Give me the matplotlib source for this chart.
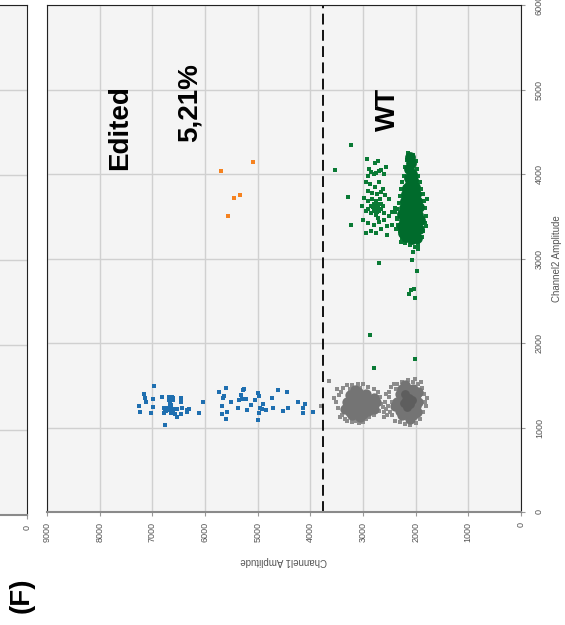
import matplotlib
matplotlib.use("Agg")
import matplotlib.pyplot as plt

plt.rcParams['font.family'] = ['Liberation Sans', 'DejaVu Sans']

# droplets, (Channel1, Channel2) amplitudes
blue_ch1 = [6969, 7159, 7134, 7121, 7260, 7235, 7032, 6982, 6982, 6817, 6767, 6779, 6678, 6634,
            6602, 6691, 6665, 6640, 6615, 6779, 6754, 6716, 6678, 6640, 6615, 6577, 6741, 6653,
            6564, 6539, 6527, 6463, 6463, 6451, 6438, 6349, 6337, 6299, 6121, 6045, 6665, 6665,
            6697,
            5729, 5602, 5640, 5653, 5501, 5678, 5589, 5678, 5602, 5374, 5349, 5298, 5222, 5311,
            5285, 5260, 5209, 5121, 5057, 4994, 4970, 4956, 4918, 4893, 4842, 4970, 4994, 4729,
            4704, 4615, 4449, 4514, 4425, 4235, 4146, 4096, 4146, 3956]
blue_ch2 = [1491, 1396, 1349, 1301, 1258, 1187, 1167, 1341, 1238, 1357, 1025, 1167, 1364, 1364,
            1325, 1325, 1278, 1266, 1345, 1234, 1219, 1219, 1207, 1219, 1203, 1219, 1195, 1167,
            1163, 1128, 1219, 1345, 1305, 1163, 1234, 1187, 1211, 1215, 1167, 1298, 1313, 1246,
            1227,
            1416, 1467, 1369, 1352, 1305, 1258, 1187, 1156, 1104, 1227, 1321, 1337, 1341, 1380,
            1443, 1459, 1203, 1262, 1325, 1404, 1372, 1234, 1222, 1281, 1203, 1171, 1088, 1352,
            1227, 1440, 1420, 1195, 1230, 1305, 1234, 1281, 1167, 1183]

orange_ch1 = [5083, 5703, 5342, 5450, 5564]
orange_ch2 = [4138, 4035, 3751, 3719, 3499]

gray_core_ch1 = [3300, 3250, 3200, 3150, 3150, 3100, 3100, 3050, 3050, 3000, 3000, 2950, 2950,
                 2900, 2900, 2850, 2800, 2800, 3200, 3350, 3250, 2750, 3050, 3150,
                 2350, 2300, 2300, 2250, 2250, 2250, 2200, 2200, 2150, 2150, 2150, 2100, 2100,
                 2050, 2050, 2050, 2000, 2000, 1950, 2400, 2100, 2200, 1950, 1980]
gray_core_ch2 = [1300, 1380, 1250, 1350, 1200, 1420, 1300, 1380, 1220, 1300, 1160, 1400, 1250,
                 1330, 1200, 1280, 1350, 1220, 1150, 1220, 1180, 1300, 1120, 1440,
                 1300, 1400, 1200, 1320, 1450, 1150, 1250, 1380, 1300, 1450, 1150, 1220, 1380,
                 1300, 1450, 1150, 1250, 1380, 1300, 1250, 1100, 1500, 1420, 1180]
gray_dark_ch1 = [2150, 2100, 2180, 2120, 2170, 2220, 2060, 2200]
gray_dark_ch2 = [1300, 1280, 1330, 1350, 1240, 1290, 1320, 1400]
gray_edge_ch1 = [3520, 3480, 3450, 3400, 3420, 3380, 3300, 3250, 3350, 3300, 3200, 3150, 3080,
                 3000, 2950, 2880, 2800, 2700, 2650, 2680, 2720, 2800, 2900, 3000, 3100, 3200,
                 3050, 2620, 2600, 2560, 2540, 3560, 3500, 3440,
                 2580, 2520, 2500, 2560, 2480, 2600,
                 2500, 2470, 2450, 2440, 2400, 2350, 2300, 2250, 2200, 2150, 2100, 2050, 2000,
                 1950, 1920, 1880, 1860, 1850, 1820, 1800, 1790, 2380, 2020, 2420, 1900,
                 3640, 3790]
gray_edge_ch2 = [1300, 1230, 1380, 1150, 1420, 1470, 1500, 1450, 1100, 1080, 1060, 1080, 1050,
                 1070, 1100, 1120, 1150, 1200, 1280, 1360, 1420, 1450, 1480, 1510, 1520, 1500,
                 1470, 1240, 1180, 1220, 1150, 1350, 1460, 1120,
                 1300, 1250, 1360, 1400, 1180, 1120,
                 1420, 1480, 1300, 1150, 1080, 1520, 1060, 1540, 1040, 1560, 1030, 1540, 1050,
                 1520, 1100, 1470, 1180, 1400, 1300, 1250, 1350, 1460, 1570, 1520, 1540,
                 1550, 1260]

green_core_ch1 = [2100, 2080, 2120, 2060, 2130, 2050, 2100, 2160, 2020, 2080, 2180, 2000, 2100,
                  2200, 1980, 2060, 2140, 1940, 2220, 2020, 2100, 2180, 1960, 2060, 2220, 1920,
                  2140, 2000, 2080, 2200, 1940, 2120, 2020, 2180, 2060, 1980,
                  2250, 2260, 2240]
green_core_ch2 = [4200, 4130, 4060, 4000, 3950, 3930, 3880, 3840, 3850, 3800, 3760, 3760, 3730,
                  3680, 3680, 3660, 3620, 3610, 3600, 3580, 3560, 3520, 3520, 3480, 3450, 3450,
                  3420, 3400, 3360, 3370, 3350, 3300, 3290, 3260, 3230, 3240,
                  3530, 3380, 3300]
green_ch1 = [2150, 2050, 2000, 2170, 2200, 1980, 2220, 1950, 2250, 1920, 2270, 1900, 2300, 1870,
             2320, 1850, 2350, 1830, 2360, 1810, 2330, 1830, 2300, 1860, 2260, 1880, 2200, 1950,
             2100, 2020, 1780, 2400, 2380, 1800, 2280,
             2045, 2070, 1981, 2032, 2095, 2121, 2007, 1956, 1960, 2007,
             2925, 2716, 2773, 2850, 2800, 2750, 2700, 2650, 2600, 2900, 2880, 2560,
             2950, 2870, 2780, 2700, 2620, 2900, 2820, 2740, 2660, 2580, 2980, 2500,
             2900, 2850, 2800, 2750, 2700, 2650, 2800, 2750, 2700, 2850, 2900, 2650, 2600, 2950,
             2720, 2780, 2760, 2680, 2820, 2620,
             2730, 2770, 2790, 2710, 2740, 2810, 2690, 2760,
             3000, 2900, 2800, 2700, 2600, 2500, 2450, 2850, 2750, 2650, 2550, 2950, 2400, 2350,
             2450, 2550, 3020,
             3234, 3538, 3285, 3234, 2691, 2867, 2792]
green_ch2 = [4250, 4230, 4150, 4170, 4080, 4060, 3980, 3980, 3900, 3900, 3820, 3820, 3740, 3760,
             3660, 3680, 3580, 3600, 3480, 3500, 3400, 3420, 3320, 3330, 3240, 3250, 3180, 3180,
             3160, 3140, 3700, 3550, 3350, 3380, 3200,
             3080, 2978, 2847, 2642, 2623, 2575, 2532, 3135, 3111, 1814,
             4180, 4156, 4125, 4020, 4000, 4010, 4030, 4050, 4000, 3980, 4060, 4080,
             3900, 3880, 3850, 3900, 3820, 3800, 3780, 3760, 3790, 3750, 3720, 3700,
             3680, 3620, 3650, 3600, 3640, 3580, 3560, 3520, 3560, 3540, 3590, 3650, 3540, 3560,
             3480, 3600, 3680, 3700, 3700, 3620,
             3590, 3570, 3620, 3600, 3550, 3610, 3580, 3640,
             3450, 3420, 3400, 3430, 3450, 3500, 3400, 3330, 3300, 3350, 3280, 3300, 3600, 3470,
             3550, 3380, 3620,
             4338, 4042, 3723, 3395, 2946, 2098, 1704]

threshold = 3760
x_ticks = [0, 1000, 2000, 3000, 4000, 5000, 6000, 7000, 8000, 9000]
y_ticks = [0, 1000, 2000, 3000, 4000, 5000, 6000]

bg = '#f4f4f4'
grid_c = '#d0d0d0'
tick_c = '#555555'

fig = plt.figure(figsize=(5.65, 6.25), dpi=100)

# partial neighbour panel, cut off on the left
axl = fig.add_axes([-0.177, 0.176, 0.2248, 0.816])
axl.set_facecolor(bg)
axl.set_xlim(9000, 0)
axl.set_ylim(0, 6000)
axl.set_xticks([0])
axl.set_yticks(y_ticks)
axl.set_yticklabels([])
axl.grid(True, axis='y', color=grid_c, lw=1)
axl.tick_params(axis='x', labelsize=6.5, labelcolor=tick_c, color='#999999', length=3,
                labelrotation=90, pad=4)
axl.tick_params(axis='y', length=0)
for s in ['top', 'left', 'right']:
    axl.spines[s].set_color('#222222')
    axl.spines[s].set_linewidth(0.8)
axl.spines['bottom'].set_color('#8a8a8a')
axl.spines['bottom'].set_linewidth(1.5)

ax = fig.add_axes([0.0832, 0.1808, 0.8389, 0.8112])
ax.set_facecolor(bg)
ax.set_xlim(9000, 0)
ax.set_ylim(0, 6000)
ax.set_xticks(x_ticks)
ax.set_yticks(y_ticks)
ax.grid(True, color=grid_c, lw=1)
ax.set_axisbelow(True)
ax.yaxis.tick_right()
ax.yaxis.set_label_position('right')
ax.tick_params(axis='both', labelsize=6.5, labelcolor=tick_c, color='#999999', length=3)
ax.tick_params(axis='x', labelrotation=90, pad=4)
ax.tick_params(axis='y', labelrotation=90, pad=7)
for lab in ax.get_yticklabels():
    lab.set_va('center')
for s in ['top', 'left', 'right']:
    ax.spines[s].set_color('#222222')
    ax.spines[s].set_linewidth(0.8)
ax.spines['bottom'].set_color('#8a8a8a')
ax.spines['bottom'].set_linewidth(1.5)

ax.set_xlabel('Channel1 Amplitude', fontsize=7, color=tick_c, rotation=180, labelpad=10)
ax.set_ylabel('Channel2 Amplitude', fontsize=7, color=tick_c, rotation=90, labelpad=6)

# droplets
ax.scatter(gray_edge_ch1, gray_edge_ch2, s=6, marker='s', color='#8c8c8c', lw=0)
ax.scatter(gray_core_ch1, gray_core_ch2, s=55, marker='o', color='#747474', lw=0)
ax.scatter(gray_dark_ch1, gray_dark_ch2, s=40, marker='o', color='#5e5e5e', lw=0)
ax.scatter(blue_ch1, blue_ch2, s=6, marker='s', color='#1f6fb0', lw=0)
ax.scatter(orange_ch1, orange_ch2, s=6, marker='s', color='#f58220', lw=0)
ax.scatter(green_ch1, green_ch2, s=6, marker='s', color='#0a7a35', lw=0)
ax.scatter(green_core_ch1, green_core_ch2, s=60, marker='o', color='#006b2c', lw=0)

ax.axvline(threshold, color='black', lw=1.3, ls=(0, (6, 3)))

ax.text(7615, 4555, 'Edited', rotation=90, fontsize=20, fontweight='bold',
        ha='center', va='center')
ax.text(6290, 4840, '5,21%', rotation=90, fontsize=20, fontweight='bold',
        ha='center', va='center')
ax.text(2526, 4768, 'WT', rotation=90, fontsize=20, fontweight='bold',
        ha='center', va='center')

fig.text(0.039, 0.048, '(F)', rotation=90, fontsize=20, fontweight='bold',
         ha='center', va='center')

fig.savefig('out.png', dpi=100)
